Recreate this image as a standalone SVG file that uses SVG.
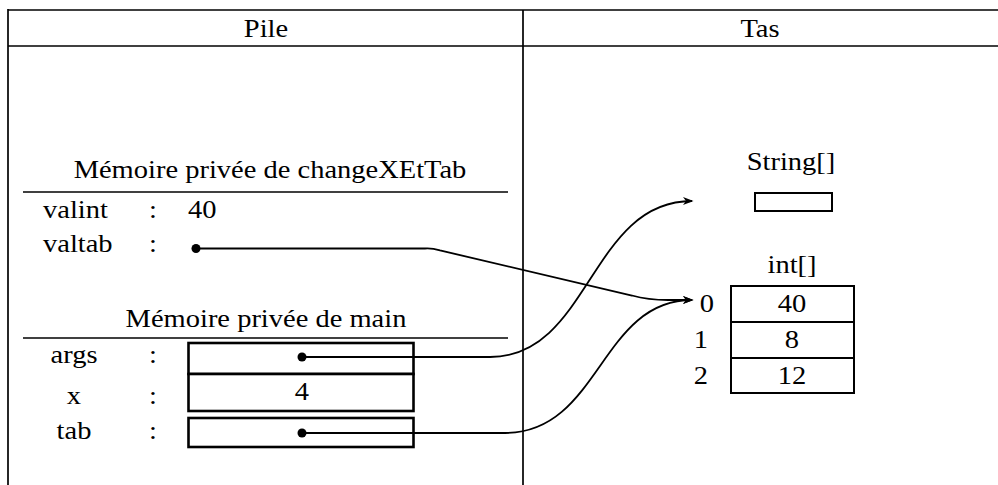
<svg xmlns="http://www.w3.org/2000/svg" width="998" height="485" viewBox="0 0 998 485">
<style>
text{font-family:"Liberation Serif","Times New Roman",Times,serif;font-size:25px;fill:#000}
.m{text-anchor:middle}
.ln{stroke:#000;stroke-width:1.7;fill:none}
.box{stroke:#000;stroke-width:2.6;fill:#fff}
.tbl{stroke:#000;stroke-width:2;fill:#fff}
.con{stroke:#000;stroke-width:1.8;fill:none}
.dot{fill:#000}
</style>
<defs>
<marker id="arr" viewBox="-11 -5 13 10" refX="0" refY="0" markerWidth="13" markerHeight="10" markerUnits="userSpaceOnUse" orient="auto">
<path d="M1.5,0 L-9,-4 L-6,0 L-9,4 Z" fill="#000"/>
</marker>
</defs>
<rect width="998" height="485" fill="#fff"/>
<g id="frame">
<line class="ln" x1="8" y1="10" x2="998" y2="10"/>
<line class="ln" x1="8" y1="46" x2="998" y2="46"/>
<line class="ln" x1="8" y1="9" x2="8" y2="485"/>
<line class="ln" x1="523" y1="10" x2="523" y2="485"/>
<text class="m" transform="translate(266,37) scale(1.14,1)">Pile</text>
<text class="m" transform="translate(760,37) scale(1.14,1)">Tas</text>
</g>
<g id="frame-changeXEtTab">
<text class="m" transform="translate(270,178) scale(1.14,1)">Mémoire privée de changeXEtTab</text>
<line class="ln" x1="23" y1="192" x2="508" y2="192" stroke-width="2"/>
<text transform="translate(43,218) scale(1.14,1)">valint</text>
<text class="m" transform="translate(153,218) scale(1.14,1)">:</text>
<text transform="translate(188,218) scale(1.14,1)">40</text>
<text transform="translate(43,252) scale(1.14,1)">valtab</text>
<text class="m" transform="translate(153,252) scale(1.14,1)">:</text>
<circle class="dot" cx="196" cy="248.5" r="4.5"/>
</g>
<g id="frame-main">
<text class="m" transform="translate(266,327) scale(1.14,1)">Mémoire privée de main</text>
<line class="ln" x1="23" y1="338" x2="508" y2="338" stroke-width="2"/>
</g>
<g id="var-args">
<text class="m" transform="translate(74,363) scale(1.14,1)">args</text>
<text class="m" transform="translate(153,363) scale(1.14,1)">:</text>
<rect class="box" x="188.5" y="343" width="225" height="31"/>
<circle class="dot" cx="302" cy="357" r="4.5"/>
</g>
<g id="var-x">
<text class="m" transform="translate(74,404) scale(1.14,1)">x</text>
<text class="m" transform="translate(153,404) scale(1.14,1)">:</text>
<rect class="box" x="188.5" y="374" width="225" height="37"/>
<text class="m" transform="translate(302,400) scale(1.14,1)">4</text>
</g>
<g id="var-tab">
<text class="m" transform="translate(74,439) scale(1.14,1)">tab</text>
<text class="m" transform="translate(153,439) scale(1.14,1)">:</text>
<rect class="box" x="188.5" y="418" width="225" height="29"/>
<circle class="dot" cx="302" cy="433" r="4.5"/>
</g>
<g id="string-array">
<text class="m" transform="translate(791,170) scale(1.14,1)">String[]</text>
<rect class="tbl" x="755" y="193" width="77" height="18"/>
</g>
<g id="int-array">
<text class="m" transform="translate(792,273) scale(1.14,1)">int[]</text>
<rect class="tbl" x="731" y="286" width="123" height="107"/>
<line class="tbl" x1="731" y1="322" x2="854" y2="322"/>
<line class="tbl" x1="731" y1="358" x2="854" y2="358"/>
<text class="m" transform="translate(707,312) scale(1.14,1)">0</text>
<text class="m" transform="translate(701,348) scale(1.14,1)">1</text>
<text class="m" transform="translate(701,384) scale(1.14,1)">2</text>
<text class="m" transform="translate(792,312) scale(1.14,1)">40</text>
<text class="m" transform="translate(792,348) scale(1.14,1)">8</text>
<text class="m" transform="translate(792,384) scale(1.14,1)">12</text>
</g>
<g id="connectors">
<path class="con" d="M196,248.5 H425 Q432,248 440,250.4 L632,295.5 Q648,300 668,300 L692,300" marker-end="url(#arr)"/>
<path class="con" d="M302,357 H490 C590,357 590,201 692,201" marker-end="url(#arr)"/>
<path class="con" d="M302,433 H505 C600,433 600,300 692,300" marker-end="url(#arr)"/>
</g>
</svg>
